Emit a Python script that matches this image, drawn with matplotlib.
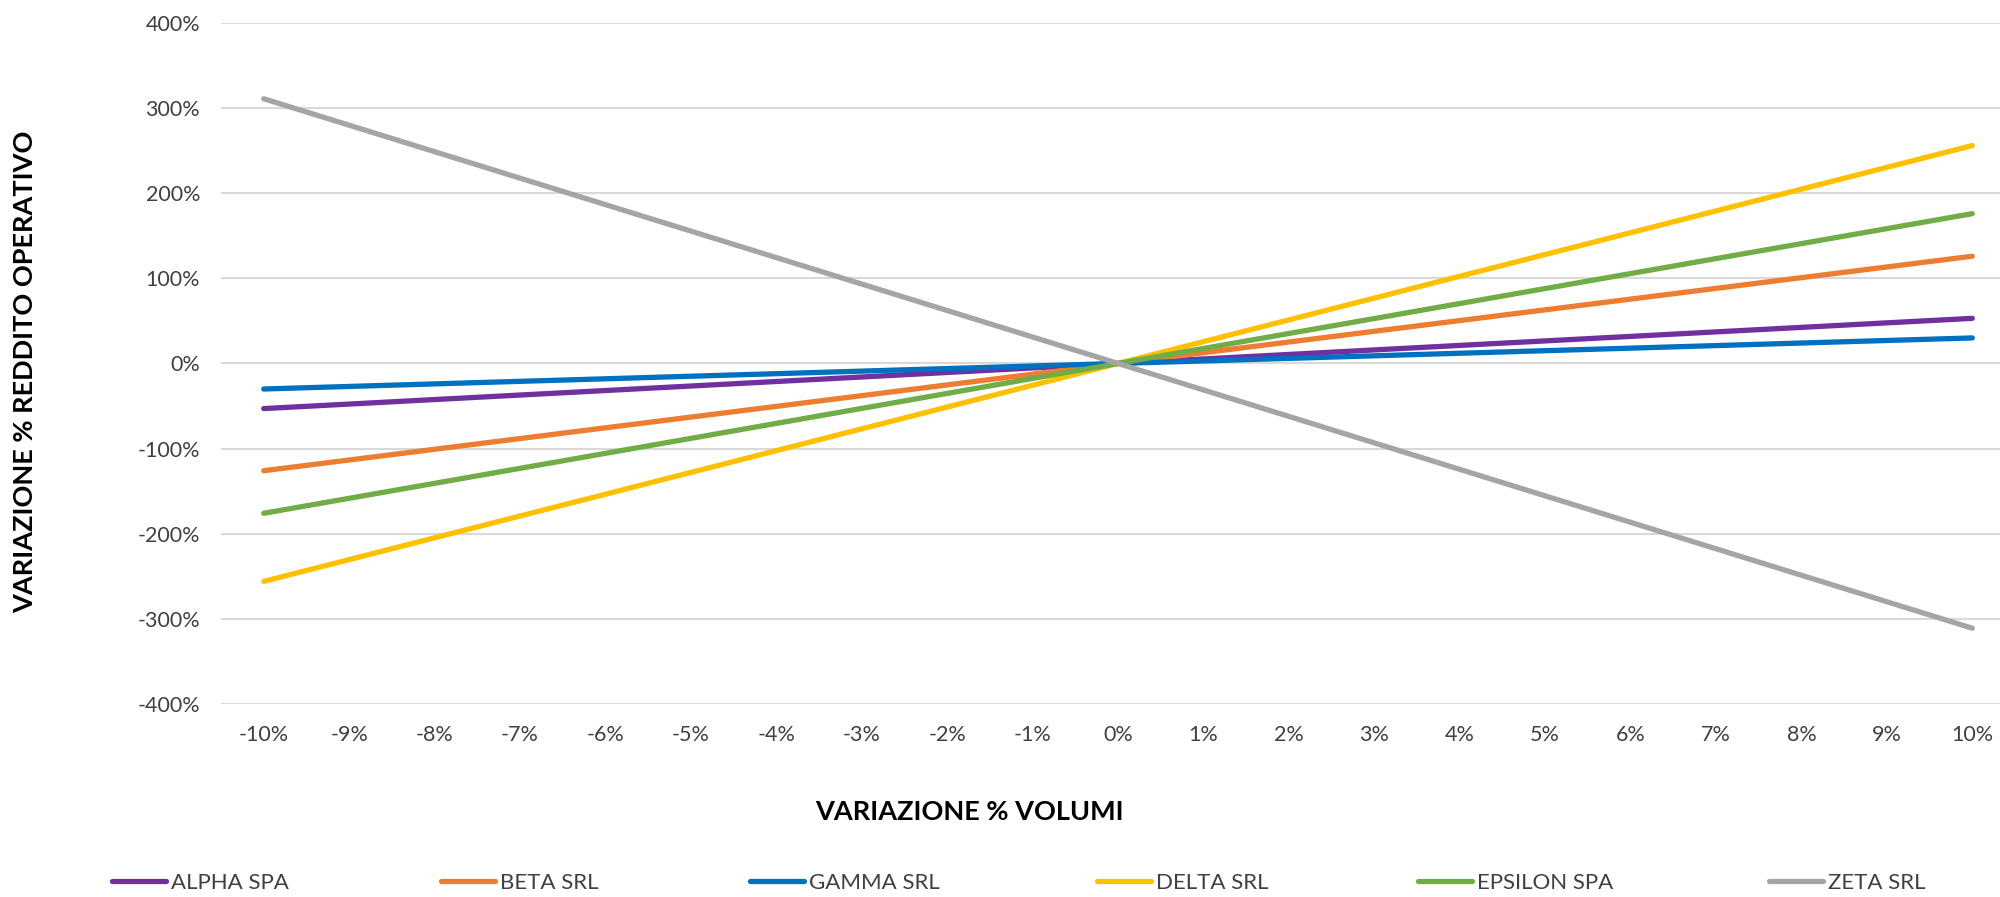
import matplotlib
matplotlib.use("Agg")
import matplotlib.pyplot as plt
from matplotlib.ticker import PercentFormatter

plt.rcParams['font.family'] = ['Lato', 'DejaVu Sans']
plt.rcParams['axes.unicode_minus'] = False

# variazione % volumi (categories)
volumi = ['-10%', '-9%', '-8%', '-7%', '-6%', '-5%', '-4%', '-3%', '-2%', '-1%', '0%',
          '1%', '2%', '3%', '4%', '5%', '6%', '7%', '8%', '9%', '10%']

# variazione % reddito operativo
alpha = [-53.0, -47.7, -42.4, -37.1, -31.8, -26.5, -21.2, -15.9, -10.6, -5.3, 0.0,
         5.3, 10.6, 15.9, 21.2, 26.5, 31.8, 37.1, 42.4, 47.7, 53.0]
beta = [-126.0, -113.4, -100.8, -88.2, -75.6, -63.0, -50.4, -37.8, -25.2, -12.6, 0.0,
        12.6, 25.2, 37.8, 50.4, 63.0, 75.6, 88.2, 100.8, 113.4, 126.0]
gamma = [-30.0, -27.0, -24.0, -21.0, -18.0, -15.0, -12.0, -9.0, -6.0, -3.0, 0.0,
         3.0, 6.0, 9.0, 12.0, 15.0, 18.0, 21.0, 24.0, 27.0, 30.0]
delta = [-256.0, -230.4, -204.8, -179.2, -153.6, -128.0, -102.4, -76.8, -51.2, -25.6, 0.0,
         25.6, 51.2, 76.8, 102.4, 128.0, 153.6, 179.2, 204.8, 230.4, 256.0]
epsilon = [-176.0, -158.4, -140.8, -123.2, -105.6, -88.0, -70.4, -52.8, -35.2, -17.6, 0.0,
           17.6, 35.2, 52.8, 70.4, 88.0, 105.6, 123.2, 140.8, 158.4, 176.0]
zeta = [311.0, 279.9, 248.8, 217.7, 186.6, 155.5, 124.4, 93.3, 62.2, 31.1, 0.0,
        -31.1, -62.2, -93.3, -124.4, -155.5, -186.6, -217.7, -248.8, -279.9, -311.0]

names = ['ALPHA SPA', 'BETA SRL', 'GAMMA SRL', 'DELTA SRL', 'EPSILON SPA', 'ZETA SRL']
series = [alpha, beta, gamma, delta, epsilon, zeta]
colors = ['#7030a0', '#ed7d31', '#0070c0', '#ffc000', '#70ad47', '#a5a5a5']
y_ticks = [-400, -300, -200, -100, 0, 100, 200, 300, 400]

fig = plt.figure(figsize=(20, 8.97), dpi=100)
ax = fig.add_axes([0.1105, 0.2152, 0.897, 0.7592])

x = list(range(len(volumi)))
lines = []
for vals, name, c in zip(series, names, colors):
    ln, = ax.plot(x, vals, color=c, lw=3.8, solid_capstyle='round', label=name)
    lines.append(ln)

ax.set_xlim(-0.5, len(volumi) - 0.5)
ax.set_ylim(-400, 400)
ax.set_yticks(y_ticks)
ax.yaxis.set_major_formatter(PercentFormatter(xmax=100, decimals=0))
ax.set_xticks(x)
ax.set_xticklabels(volumi)
ax.grid(axis='y', color='#d9d9d9', lw=1.5)
ax.set_axisbelow(True)
for s in ax.spines.values():
    s.set_visible(False)
ax.tick_params(length=0, labelsize=15.5, colors='#404040')
ax.tick_params(axis='y', pad=15)
ax.tick_params(axis='x', pad=15)

fig.text(0.4845, 0.0948, 'VARIAZIONE % VOLUMI', ha='center', va='center',
         fontsize=19.5, fontweight='bold', color='black')
fig.text(0.0125, 0.585, 'VARIAZIONE % REDDITO OPERATIVO', ha='center', va='center',
         rotation=90, fontsize=19.5, fontweight='bold', color='black')

# legend entries spread out as in the original
leg_x = [112, 441, 750, 1097, 1418, 1769]
for ln, lx in zip(lines, leg_x):
    fig.legend([ln], [ln.get_label()], loc='center left',
               bbox_to_anchor=(lx / 2000, 0.0155), frameon=False,
               fontsize=16, handlelength=2.45, handletextpad=0.2,
               borderpad=0, borderaxespad=0, labelcolor='#404040')

fig.savefig('out.png', dpi=100)
